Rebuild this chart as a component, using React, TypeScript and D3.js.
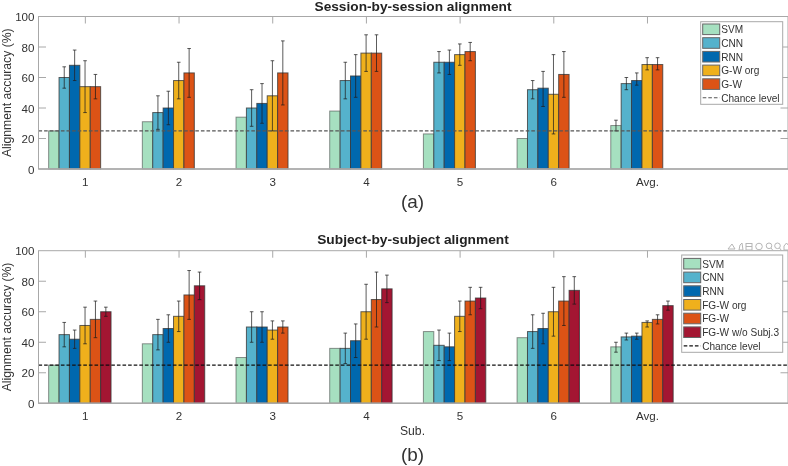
import React from 'react';
import * as d3 from 'd3';

const groups = ['1', '2', '3', '4', '5', '6', 'Avg.'];
const yTicks = [0, 20, 40, 60, 80, 100];

const colors = ['#a6e0c0', '#55b2cc', '#0668ae', '#efb01e', '#dc5316', '#a31230'];

// Session-by-session panel
const sessionNames = ['SVM', 'CNN', 'RNN', 'G-W org', 'G-W'];
const sessionSvm = [25, 31, 34, 38, 23, 20, 28.5];
const sessionCnn = [60, 37, 40, 58, 70, 52, 56];
const sessionRnn = [68, 40, 43, 61, 70, 53, 58];
const sessionOrg = [54, 58, 48, 76, 75, 49, 68.5];
const sessionGw = [54, 63, 63, 76, 77, 62, 68.5];
const sessionSvmErr = [null, null, null, null, null, null, [25, 32]];
const sessionCnnErr = [[53, 67], [26, 48], [28, 52], [46, 70], [63, 77], [46, 58], [52, 60]];
const sessionRnnErr = [[58, 78], [29, 51], [30, 56], [47, 75], [62, 78], [41, 64], [55, 63]];
const sessionOrgErr = [[37, 71], [46, 70], [25, 71], [64, 88], [68, 82], [23, 75], [65, 73]];
const sessionGwErr = [[46, 62], [47, 79], [42, 84], [64, 88], [71, 83], [47, 77], [65, 73]];

// Subject-by-subject panel
const subjectNames = ['SVM', 'CNN', 'RNN', 'FG-W org', 'FG-W', 'FG-W w/o Subj.3'];
const subjectSvm = [25, 39, 30, 36, 47, 43, 37];
const subjectCnn = [45, 45, 50, 36, 38, 47, 43.5];
const subjectRnn = [42, 49, 50, 41, 37, 49, 44];
const subjectOrg = [51, 57, 48, 60, 57, 60, 53];
const subjectFg = [55, 71, 50, 68, 67, 67, 55];
const subjectWo = [60, 77, null, 75, 69, 74, 64];
const subjectSvmErr = [null, null, null, null, null, null, [33.5, 40]];
const subjectCnnErr = [[37, 53], [35, 55], [40, 60], [26, 46], [28, 48], [36, 58], [41.5, 46]];
const subjectRnnErr = [[36, 48], [40, 58], [40, 60], [30, 52], [28, 46], [39, 59], [42, 46]];
const subjectOrgErr = [[39, 63], [47, 67], [42, 54], [42, 78], [47, 67], [44, 76], [50, 54]];
const subjectFgErr = [[43, 67], [55, 87], [46, 54], [50, 86], [58, 76], [51, 83], [52, 58]];
const subjectWoErr = [[57, 63], [68, 86], null, [66, 84], [62, 76], [65, 83], [61, 67]];

const sessionValues = [sessionSvm, sessionCnn, sessionRnn, sessionOrg, sessionGw];
const sessionErrors = [sessionSvmErr, sessionCnnErr, sessionRnnErr, sessionOrgErr, sessionGwErr];
const subjectValues = [subjectSvm, subjectCnn, subjectRnn, subjectOrg, subjectFg, subjectWo];
const subjectErrors = [subjectSvmErr, subjectCnnErr, subjectRnnErr, subjectOrgErr, subjectFgErr, subjectWoErr];

const FONT = '"Liberation Sans", Arial, sans-serif';
const AXIS = '#a8a8a8';
const TEXT = '#333';
const CHANCE = 25;

const x = d3.scaleLinear().domain([0.5, 8.5]).range([38.5, 788]);
const BAR_W = 10.4;
const BAR_START = -36.7; // first bar's left edge relative to the group tick
const ROW_H = 13.7;

type PanelProps = {
  title: string;
  titleY: number;
  titleW: number;
  top: number;
  bottom: number;
  values: (number | null)[][];
  errors: any[][];
  names: string[];
  legendX: number;
  legendY: number;
  legendH: number;
  firstRow: number;
  chanceColor: string;
};

const Panel = ({ title, titleY, titleW, top, bottom, values, errors, names, legendX, legendY, legendH, firstRow, chanceColor }: PanelProps) => {
  const y = d3.scaleLinear().domain([0, 100]).range([bottom, top]);
  const legendW = 782.7 - legendX;
  const chanceRow = legendY + firstRow + ROW_H * names.length;

  return (
    <g fontFamily={FONT}>
      <text
        x={413}
        y={titleY}
        textAnchor="middle"
        fontSize={12.4}
        fontWeight="bold"
        fill="#222"
        textLength={titleW}
        lengthAdjust="spacingAndGlyphs"
      >
        {title}
      </text>

      {/* ticks inside the box */}
      {groups.map((_, i) => (
        <line key={i} x1={x(i + 1)} x2={x(i + 1)} y1={top} y2={top + 7} stroke={AXIS} />
      ))}
      {yTicks.slice(1, -1).map(t => (
        <g key={t} stroke={AXIS}>
          <line x1={38.5} x2={46} y1={y(t)} y2={y(t)} />
          <line x1={780.5} x2={788} y1={y(t)} y2={y(t)} />
        </g>
      ))}

      {/* bars */}
      {values.map((series, s) => (
        <g key={s}>
          {series.map((v, i) => v == null ? null : (
            <rect
              key={i}
              x={x(i + 1) + BAR_START + s * BAR_W}
              y={y(v)}
              width={BAR_W}
              height={bottom - y(v)}
              fill={colors[s]}
              stroke="#3a3a3a"
              strokeOpacity={s === 0 ? 0.55 : 0.8}
            />
          ))}
        </g>
      ))}

      {/* error bars */}
      {errors.map((series, s) => (
        <g key={s} stroke="#1c1c1c" strokeOpacity={0.72}>
          {series.map((e, i) => {
            if (!e) return null;
            const cx = x(i + 1) + BAR_START + (s + 0.5) * BAR_W;
            return (
              <g key={i}>
                <line x1={cx} x2={cx} y1={y(e[0])} y2={y(e[1])} />
                <line x1={cx - 1.8} x2={cx + 1.8} y1={y(e[0])} y2={y(e[0])} />
                <line x1={cx - 1.8} x2={cx + 1.8} y1={y(e[1])} y2={y(e[1])} />
              </g>
            );
          })}
        </g>
      ))}

      {/* chance level */}
      <line x1={38.5} x2={788} y1={y(CHANCE)} y2={y(CHANCE)} stroke={chanceColor} strokeWidth={1.1} strokeDasharray="3.6 2" />

      {/* box */}
      <rect x={38.5} y={top} width={749.5} height={bottom - top} fill="none" stroke={AXIS} />
      <line x1={38.5} x2={788} y1={bottom} y2={bottom} stroke={AXIS} strokeWidth={1.4} />

      {/* tick labels */}
      {yTicks.map(t => (
        <text key={t} x={34.5} y={y(t) + 4.6} textAnchor="end" fontSize={11.6} fill={TEXT}>{t}</text>
      ))}
      {groups.map((g, i) => (
        <text key={g} x={x(i + 1)} y={bottom + 16.5} textAnchor="middle" fontSize={11.6} fill={TEXT}>{g}</text>
      ))}
      <text
        transform={`translate(11,${(top + bottom) / 2}) rotate(-90)`}
        textAnchor="middle"
        fontSize={12.2}
        fill={TEXT}
      >
        Alignment accuracy (%)
      </text>

      {/* legend */}
      <rect x={legendX} y={legendY} width={legendW} height={legendH} fill="#fff" stroke={AXIS} />
      {names.map((n, k) => {
        const cy = legendY + firstRow + ROW_H * k;
        return (
          <g key={n}>
            <rect x={legendX + 2} y={cy - 5.3} width={17} height={10.6} fill={colors[k]} stroke="#666" />
            <text x={legendX + 20.5} y={cy + 3.8} fontSize={10.1} fill={TEXT}>{n}</text>
          </g>
        );
      })}
      <line x1={legendX + 2} x2={legendX + 19} y1={chanceRow} y2={chanceRow} stroke={chanceColor} strokeWidth={1.1} strokeDasharray="3.6 2" />
      <text x={legendX + 20.5} y={chanceRow + 3.8} fontSize={10.1} fill={TEXT}>Chance level</text>
    </g>
  );
};

// faint figure-toolbar icons left over above the second panel
const Toolbar = () => (
  <g fill="none" stroke="#b5b5b5" strokeWidth={1} transform="translate(728,242)">
    <path d="M0 7 L4 2 L7 7 Z" />
    <path d="M11 8 L12 3 L14 1 L15 8 Z" />
    <rect x={18} y={1.5} width={6} height={6.5} />
    <path d="M18 4.5 H24" />
    <circle cx={31} cy={4.5} r={3.3} />
    <circle cx={41} cy={3.8} r={2.8} />
    <path d="M43 6 L45 8.5" />
    <circle cx={49.5} cy={3.8} r={2.8} />
    <path d="M51.5 6 L53.5 8.5" />
    <path d="M56 4 L58.5 1 L61 4 V8 H56 Z" />
  </g>
);

const App = () => (
  <svg
    width={788}
    height={466}
    viewBox="0 0 788 466"
    style={{ position: 'absolute', left: 0, top: 0, background: '#fff' }}
  >
    <defs>
      <filter id="soft" x="0" y="0" width="100%" height="100%">
        <feGaussianBlur stdDeviation="0.3" />
      </filter>
    </defs>
    <g filter="url(#soft)">
      <rect width={788} height={466} fill="#fff" />
      <Panel
        title="Session-by-session alignment"
        titleY={11.3}
        titleW={197}
        top={16.5}
        bottom={169}
        values={sessionValues}
        errors={sessionErrors}
        names={sessionNames}
        legendX={700.7}
        legendY={21.7}
        legendH={82.6}
        firstRow={7.6}
        chanceColor="#555"
      />
      <Panel
        title="Subject-by-subject alignment"
        titleY={244}
        titleW={191.6}
        top={250.7}
        bottom={403.3}
        values={subjectValues}
        errors={subjectErrors}
        names={subjectNames}
        legendX={681.7}
        legendY={255}
        legendH={97.3}
        firstRow={8.7}
        chanceColor="#111"
      />
      <Toolbar />
      <g fontFamily={FONT} fill={TEXT}>
        <text x={412.5} y={208} textAnchor="middle" fontSize={18.9}>(a)</text>
        <text x={412.5} y={435} textAnchor="middle" fontSize={12.2}>Sub.</text>
        <text x={412.5} y={461} textAnchor="middle" fontSize={18.9}>(b)</text>
      </g>
    </g>
  </svg>
);

export default App;
